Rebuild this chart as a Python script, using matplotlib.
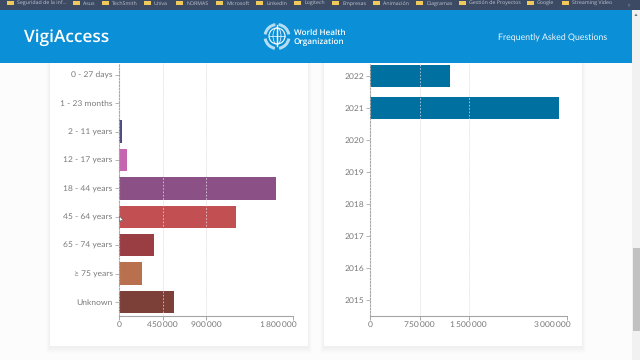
import matplotlib
matplotlib.use("Agg")
import matplotlib.pyplot as plt
from matplotlib.patches import Rectangle, Circle, Ellipse, Polygon, Wedge
from matplotlib.transforms import ScaledTranslation

plt.rcParams['font.family'] = ['Lato', 'DejaVu Sans']
plt.rcParams['text.hinting'] = 'no_hinting'

# chart data
age_labels = ['0 - 27 days', '1 - 23 months', '2 - 11 years', '12 - 17 years', '18 - 44 years',
              '45 - 64 years', '65 - 74 years', '≥ 75 years', 'Unknown']
age_values = [1500, 2500, 28000, 86000, 1621000, 1205000, 358000, 234000, 571000]
age_colors = ['#5b5b93', '#6a5a9a', '#4f4a86', '#c766b0', '#8b5086', '#c24f52', '#9b3e44', '#b8704f', '#7c4038']
age_ticks = [0, 450000, 900000, 1800000]
age_ticklabels = ['0', '450\u2009000', '900\u2009000', '1\u2009800\u2009000']

year_labels = ['2022', '2021', '2020', '2019', '2018', '2017', '2016', '2015']
year_values = [1218000, 2874000, 0, 0, 0, 0, 0, 0]
year_ticks = [0, 750000, 1500000, 3000000]
year_ticklabels = ['0', '750\u2009000', '1\u2009500\u2009000', '3\u2009000\u2009000']

bookmarks = ['Seguridad de la inf...', 'Asus', 'TechSmith', 'Univa', 'NORMAS', 'Microsoft', 'LinkedIn',
             'Logitech', 'Empresas', 'Animación', 'Diagramas', 'Gestión de Proyectos', 'Google', 'Streaming Video']
bookmark_x = [17, 83, 112, 154, 186, 226, 266, 304, 342, 383, 426, 469, 537, 572]

TEXT = '#7a7a7a'
W, H = 640, 360

fig = plt.figure(figsize=(6.4, 3.6), dpi=100, facecolor='#fcfcfc')

# page furniture drawn in pixel coordinates
bg = fig.add_axes([0, 0, 1, 1])
bg.set_xlim(0, W)
bg.set_ylim(H, 0)
bg.axis('off')

for card_x in [50, 324]:
    for i in range(6, 0, -1):
        bg.add_patch(Rectangle((card_x - i * 0.6, 40), 258 + 1.2 * i, 306 + i + 1, fc='#000000', alpha=0.007, lw=0))
    bg.add_patch(Rectangle((card_x, 40), 258, 306, fc='white', lw=0))

# scrollbar
bg.add_patch(Rectangle((632, 10), 8, 350, fc='#f1f1f1', lw=0))
bg.add_patch(Rectangle((633, 248), 7, 83, fc='#c1c1c1', lw=0))


def panel(left, zero_y, step, labels, values, colors, ticks, ticklabels, xmax, px_per_max):
    # axes span the visible part of the plot, header hides the rest
    top, bottom = 63, 315.5
    ax = fig.add_axes([left / W, 1 - bottom / H, px_per_max / W, (bottom - top) / H], facecolor='none')
    ypos = list(range(len(labels)))
    ax.barh(ypos, values, height=22.4 / step, color=colors, zorder=2)
    ax.set_xlim(0, xmax)
    ax.set_ylim((bottom - zero_y) / step, (top - zero_y) / step)
    ax.set_yticks(ypos, labels)
    ax.set_xticks(ticks, ticklabels)
    ax.tick_params(axis='y', length=3, width=0.6, color='#aaaaaa', labelcolor=TEXT, labelsize=6.1, pad=1.5)
    ax.tick_params(axis='x', length=3, width=0.6, color='#999999', labelcolor=TEXT, labelsize=6.1, pad=1)
    # last label ends just past the last tick, the way the page draws it
    last = ax.get_xticklabels()[-1]
    last.set_ha('right')
    last.set_transform(last.get_transform() + ScaledTranslation(3.5 / 100, 0, fig.dpi_scale_trans))
    for s in ['top', 'right']:
        ax.spines[s].set_visible(False)
    ax.spines['bottom'].set_color('#a5a5a5')
    ax.spines['bottom'].set_linewidth(0.8)
    ax.spines['left'].set_color('#a8a8a8')
    ax.spines['left'].set_linewidth(0.8)
    ax.spines['left'].set_linestyle((0, (1.5, 1.5)))
    for t in ticks[1:]:
        ax.axvline(t, color='#efefef', lw=0.6, zorder=1)
        ax.axvline(t, color='#ece6ee', lw=0.6, ls=(0, (2, 2)), alpha=0.8, zorder=3)
    return ax


ax1 = panel(119, 74.7, 28.4, age_labels, age_values, age_colors, age_ticks, age_ticklabels, 1800000, 174.3)
ax2 = panel(370.3, 76, 32, year_labels, year_values, '#0070a0', year_ticks, year_ticklabels, 3000000, 197)

# header on top of the charts
top = fig.add_axes([0, 0, 1, 1], facecolor='none')
top.set_xlim(0, W)
top.set_ylim(H, 0)
top.axis('off')

top.add_patch(Rectangle((0, 0), W, 10, fc='#3d4a63', lw=0))
top.add_patch(Rectangle((0, 10), 632, 52.5, fc='#0b8fd6', lw=0))
top.add_patch(Rectangle((632, 10), 8, 52.5, fc='#f1f1f1', lw=0))
top.add_patch(Polygon([(636, 13.5), (634.5, 16), (637.5, 16)], fc='#707070', lw=0))

for name, x in zip(bookmarks, bookmark_x):
    top.add_patch(Rectangle((x - 10, 0.5), 6.5, 4.5, fc='#f0c95c', lw=0))
    top.text(x, 3.2, name, color='#c3c8d2', family=['Open Sans'], fontsize=3.8, va='center', ha='left')
top.text(629, 4, '›', color='#c3c8d2', fontsize=5, va='center', ha='center')

top.text(24.5, 37.5, 'VigiAccess', color='white', family=['Open Sans'], fontsize=12.4, fontweight='semibold', va='center', ha='left')
top.text(498.5, 37.5, 'Frequently Asked Questions', color='#eef8fd', fontsize=6.3, va='center', ha='left')
top.text(294, 32.5, 'World Health', color='white', family=['Open Sans'], fontsize=5.9, fontweight='semibold', va='center', ha='left')
top.text(294, 42, 'Organization', color='white', family=['Open Sans'], fontsize=5.9, fontweight='semibold', va='center', ha='left')

# WHO emblem
cx, cy = 277, 36.5
top.add_patch(Circle((cx, cy - 0.5), 8, fc='none', ec='white', lw=0.8))
top.add_patch(Ellipse((cx, cy - 0.5), 8, 16, fc='none', ec='white', lw=0.5))
top.plot([cx - 8, cx + 8], [cy - 0.5, cy - 0.5], color='white', lw=0.5)
top.plot([cx, cx], [cy - 12, cy + 9], color='white', lw=1)
for a, b in [(100, 170), (190, 262), (278, 350), (10, 80)]:
    top.add_patch(Wedge((cx, cy), 13.5, a, b, width=3, fc='white', alpha=0.7, lw=0))

# mouse pointer on the left panel
top.add_patch(Polygon([(119.5, 216), (119.5, 222), (121, 220.5), (123.5, 220.5)], fc='white', ec='#555555', lw=0.4))

fig.savefig('out.png', dpi=100, facecolor=fig.get_facecolor())
